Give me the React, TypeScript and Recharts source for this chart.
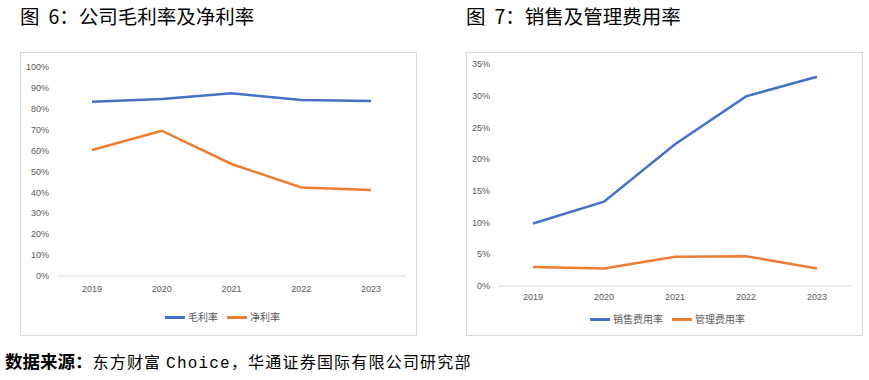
import React from 'react';
import { LineChart, Line, XAxis, YAxis, Legend } from 'recharts';

const years = ['2019', '2020', '2021', '2022', '2023'];
const grossMargin = [0.834, 0.847, 0.874, 0.842, 0.837];
const netMargin = [0.603, 0.695, 0.536, 0.424, 0.411];
const sellingRate = [0.0986, 0.133, 0.2235, 0.299, 0.33];
const adminRate = [0.03, 0.0275, 0.046, 0.047, 0.0275];

const leftTicks = [0, 0.1, 0.2, 0.3, 0.4, 0.5, 0.6, 0.7, 0.8, 0.9, 1];
const rightTicks = [0, 0.05, 0.1, 0.15, 0.2, 0.25, 0.3, 0.35];

const BLUE = '#4472C4';
const ORANGE = '#ED7D31';
const TICK = { fontSize: 9, fill: '#595959', fontFamily: 'Liberation Sans, Arial, sans-serif' };
const CJK = '"Noto Sans CJK SC", sans-serif';

const leftData = years.map((y, i) => ({ year: y, gross: grossMargin[i], net: netMargin[i] }));
const rightData = years.map((y, i) => ({ year: y, selling: sellingRate[i], admin: adminRate[i] }));

const pct = (v: number) => `${Math.round(v * 100)}%`;

const LegendLines = ({ items, shift }: { items: { label: string; color: string }[]; shift: number }) => (
  <div style={{ display: 'flex', justifyContent: 'center', alignItems: 'center', gap: 9, paddingLeft: shift }}>
    {items.map((it) => (
      <div key={it.label} style={{ display: 'flex', alignItems: 'center', gap: 3 }}>
        <span style={{ width: 20, height: 3, background: it.color, display: 'inline-block' }} />
        <span style={{ fontSize: 10, color: '#595959', fontFamily: CJK, lineHeight: '14px' }}>{it.label}</span>
      </div>
    ))}
  </div>
);

const boxStyle: React.CSSProperties = {
  position: 'absolute',
  top: 52,
  width: 397,
  height: 284,
  border: '1px solid #d9d9d9',
  boxSizing: 'border-box',
  background: '#fff',
};

const titleStyle: React.CSSProperties = {
  position: 'absolute',
  top: 1,
  fontSize: 19.5,
  fontFamily: CJK,
  color: '#000',
  whiteSpace: 'nowrap',
};

export default function App() {
  return (
    <div style={{ position: 'absolute', left: 0, top: 0, width: 869, height: 380, background: '#fff' }}>
      <div style={{ ...titleStyle, left: 20 }}>
        <span style={{ marginRight: 9 }}>图</span>6：公司毛利率及净利率
      </div>
      <div style={{ ...titleStyle, left: 466 }}>
        <span style={{ marginRight: 9 }}>图</span>7：销售及管理费用率
      </div>

      <div style={{ ...boxStyle, left: 20 }}>
        <LineChart width={395} height={282} data={leftData} margin={{ top: 14, right: 10, bottom: 0, left: 0 }}>
          <XAxis
            dataKey="year"
            height={59}
            padding={{ left: 35, right: 35 }}
            tick={TICK}
            tickLine={false}
            tickMargin={4}
            axisLine={{ stroke: '#d9d9d9' }}
          />
          <YAxis
            width={36}
            domain={[0, 1]}
            ticks={leftTicks}
            tickFormatter={pct}
            tick={TICK}
            tickLine={false}
            axisLine={false}
            interval={0}
          />
          <Legend
            verticalAlign="middle"
            layout="horizontal"
            align="center"
            wrapperStyle={{ top: 257, left: 0, width: 395 }}
            content={() => (
              <LegendLines shift={8} items={[{ label: '毛利率', color: BLUE }, { label: '净利率', color: ORANGE }]} />
            )}
          />
          <Line dataKey="gross" stroke={BLUE} strokeWidth={2.5} dot={false} isAnimationActive={false} />
          <Line dataKey="net" stroke={ORANGE} strokeWidth={2.5} dot={false} isAnimationActive={false} />
        </LineChart>
      </div>

      <div style={{ ...boxStyle, left: 466 }}>
        <LineChart width={395} height={282} data={rightData} margin={{ top: 11, right: 10, bottom: 0, left: 0 }}>
          <XAxis
            dataKey="year"
            height={49}
            padding={{ left: 35, right: 35 }}
            tick={TICK}
            tickLine={false}
            tickMargin={2}
            axisLine={{ stroke: '#d9d9d9' }}
          />
          <YAxis
            width={31}
            domain={[0, 0.35]}
            ticks={rightTicks}
            tickFormatter={pct}
            tick={TICK}
            tickLine={false}
            axisLine={false}
            interval={0}
          />
          <Legend
            verticalAlign="middle"
            layout="horizontal"
            align="center"
            wrapperStyle={{ top: 259, left: 0, width: 395 }}
            content={() => (
              <LegendLines shift={6} items={[{ label: '销售费用率', color: BLUE }, { label: '管理费用率', color: ORANGE }]} />
            )}
          />
          <Line dataKey="selling" stroke={BLUE} strokeWidth={2.5} dot={false} isAnimationActive={false} />
          <Line dataKey="admin" stroke={ORANGE} strokeWidth={2.5} dot={false} isAnimationActive={false} />
        </LineChart>
      </div>

      <div
        style={{
          position: 'absolute',
          left: 5,
          top: 350,
          fontFamily: CJK,
          color: '#000',
          whiteSpace: 'nowrap',
          lineHeight: '22px',
        }}
      >
        <b style={{ fontSize: 17.5 }}>数据来源：</b>
        <span style={{ fontSize: 16, letterSpacing: 1.2 }}>
          东方财富{' '}
          <span style={{ fontFamily: '"Liberation Mono", monospace' }}>Choice</span>，华通证券国际有限公司研究部
        </span>
      </div>
    </div>
  );
}
